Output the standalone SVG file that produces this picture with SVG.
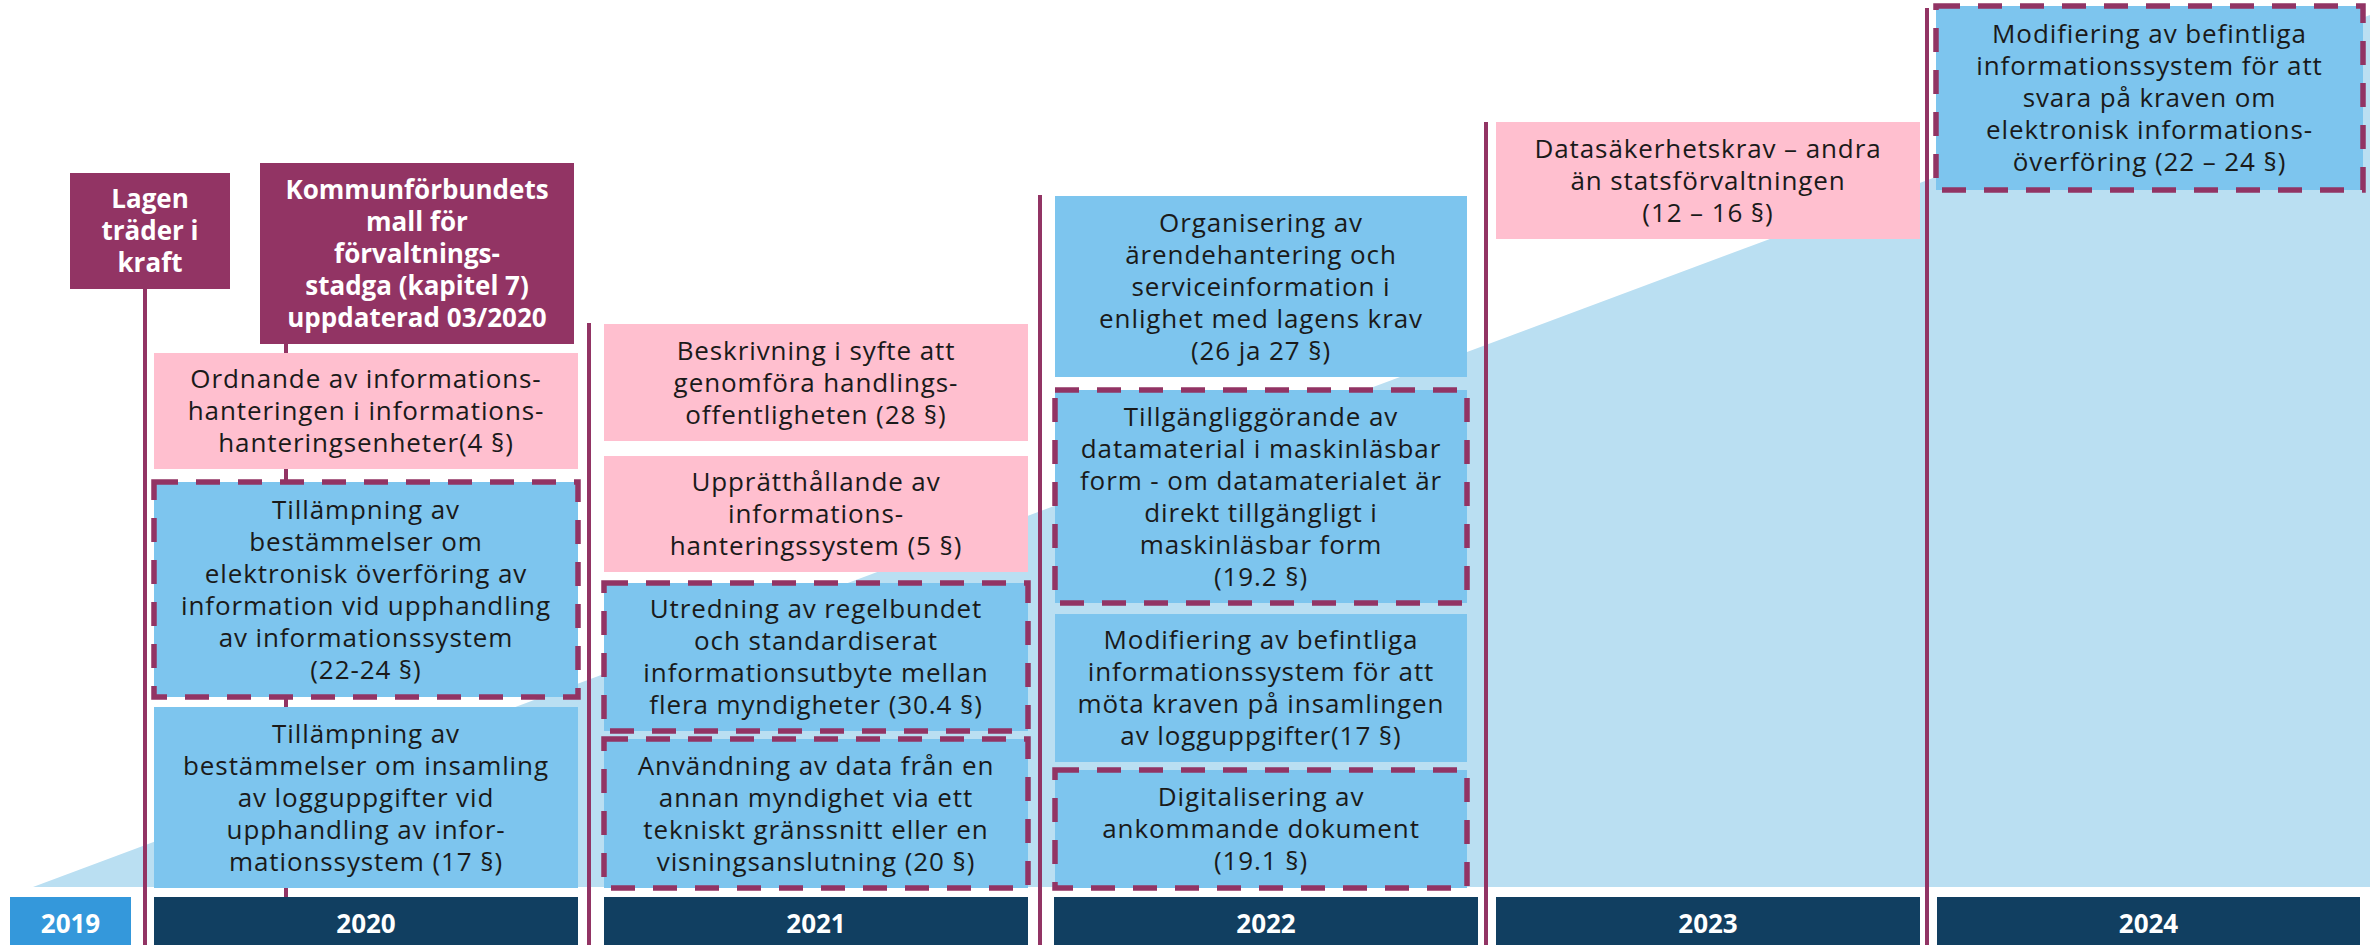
<svg xmlns="http://www.w3.org/2000/svg" width="2376" height="945" viewBox="0 0 2376 945">
<style>
.t{font-family:"Open Sans","Noto Sans","Liberation Sans",sans-serif;font-size:26px;fill:#1a1a1a;text-anchor:middle;letter-spacing:0.9px}
.tb{font-family:"Open Sans","Noto Sans","Liberation Sans",sans-serif;font-size:26px;font-weight:700;fill:#ffffff;text-anchor:middle}
.yr{font-family:"Open Sans","Noto Sans","Liberation Sans",sans-serif;font-size:26px;font-weight:700;fill:#ffffff;text-anchor:middle}
.pink{fill:#ffbfcf}
.blue{fill:#7dc5ee}
.dash{fill:#7dc5ee;stroke:#923464;stroke-width:5.5;stroke-dasharray:24 18}
.head{fill:#923464}
.bar{fill:#113f61}
.line{stroke:#923464;stroke-width:4;fill:none}
</style>
<rect width="2376" height="945" fill="#ffffff"/>
<polygon id="background" points="33,887 2370,887 2370,15" fill="#badff2"/>
<g id="connectors">
<line class="line" x1="145" y1="289" x2="145" y2="945"/>
<line class="line" x1="286" y1="344" x2="286" y2="897"/>
<line class="line" x1="589" y1="323" x2="589" y2="945"/>
<line class="line" x1="1040" y1="195" x2="1040" y2="945"/>
<line class="line" x1="1486" y1="122" x2="1486" y2="945"/>
<line class="line" x1="1927" y1="8" x2="1927" y2="945"/>
</g>
<g id="lagen">
<rect class="head" x="70" y="173" width="160" height="116"/>
<text class="tb"><tspan x="150" y="208">Lagen</tspan><tspan x="150" y="240">träder i</tspan><tspan x="150" y="272">kraft</tspan></text>
</g>
<g id="kommunforbundet">
<rect class="head" x="260" y="163" width="314" height="181"/>
<text class="tb"><tspan x="417" y="198.5">Kommunförbundets</tspan><tspan x="417" y="230.5">mall för</tspan><tspan x="417" y="262.5">förvaltnings-</tspan><tspan x="417" y="294.5">stadga (kapitel 7)</tspan><tspan x="417" y="326.5">uppdaterad 03/2020</tspan></text>
</g>
<g id="n2020-1">
<rect class="pink" x="154" y="353" width="424" height="116"/>
<text class="t"><tspan x="366" y="388">Ordnande av informations-</tspan><tspan x="366" y="420">hanteringen i informations-</tspan><tspan x="366" y="452">hanteringsenheter(4 §)</tspan></text>
</g>
<g id="n2020-2">
<rect class="dash" x="154" y="482" width="424" height="215"/>
<text class="t"><tspan x="366" y="518.5">Tillämpning av</tspan><tspan x="366" y="550.5">bestämmelser om</tspan><tspan x="366" y="582.5">elektronisk överföring av</tspan><tspan x="366" y="614.5">information vid upphandling</tspan><tspan x="366" y="646.5">av informationssystem</tspan><tspan x="366" y="678.5">(22-24 §)</tspan></text>
</g>
<g id="n2020-3">
<rect class="blue" x="154" y="707" width="424" height="181"/>
<text class="t"><tspan x="366" y="742.5">Tillämpning av</tspan><tspan x="366" y="774.5">bestämmelser om insamling</tspan><tspan x="366" y="806.5">av logguppgifter vid</tspan><tspan x="366" y="838.5">upphandling av infor-</tspan><tspan x="366" y="870.5">mationssystem (17 §)</tspan></text>
</g>
<g id="n2021-1">
<rect class="pink" x="604" y="324" width="424" height="117"/>
<text class="t"><tspan x="816" y="359.5">Beskrivning i syfte att</tspan><tspan x="816" y="391.5">genomföra handlings-</tspan><tspan x="816" y="423.5">offentligheten (28 §)</tspan></text>
</g>
<g id="n2021-2">
<rect class="pink" x="604" y="456" width="424" height="116"/>
<text class="t"><tspan x="816" y="491">Upprätthållande av</tspan><tspan x="816" y="523">informations-</tspan><tspan x="816" y="555">hanteringssystem (5 §)</tspan></text>
</g>
<g id="n2021-3">
<rect class="dash" x="604" y="583" width="424" height="148"/>
<text class="t"><tspan x="816" y="618">Utredning av regelbundet</tspan><tspan x="816" y="650">och standardiserat</tspan><tspan x="816" y="682">informationsutbyte mellan</tspan><tspan x="816" y="714">flera myndigheter (30.4 §)</tspan></text>
</g>
<g id="n2021-4">
<rect class="dash" x="604" y="739" width="424" height="149"/>
<text class="t"><tspan x="816" y="774.5">Användning av data från en</tspan><tspan x="816" y="806.5">annan myndighet via ett</tspan><tspan x="816" y="838.5">tekniskt gränssnitt eller en</tspan><tspan x="816" y="870.5">visningsanslutning (20 §)</tspan></text>
</g>
<g id="n2022-1">
<rect class="blue" x="1055" y="196" width="412" height="181"/>
<text class="t"><tspan x="1261" y="231.5">Organisering av</tspan><tspan x="1261" y="263.5">ärendehantering och</tspan><tspan x="1261" y="295.5">serviceinformation i</tspan><tspan x="1261" y="327.5">enlighet med lagens krav</tspan><tspan x="1261" y="359.5">(26 ja 27 §)</tspan></text>
</g>
<g id="n2022-2">
<rect class="dash" x="1055" y="390" width="412" height="213"/>
<text class="t"><tspan x="1261" y="425.5">Tillgängliggörande av</tspan><tspan x="1261" y="457.5">datamaterial i maskinläsbar</tspan><tspan x="1261" y="489.5">form - om datamaterialet är</tspan><tspan x="1261" y="521.5">direkt tillgängligt i</tspan><tspan x="1261" y="553.5">maskinläsbar form</tspan><tspan x="1261" y="585.5">(19.2 §)</tspan></text>
</g>
<g id="n2022-3">
<rect class="blue" x="1055" y="614" width="412" height="148"/>
<text class="t"><tspan x="1261" y="649">Modifiering av befintliga</tspan><tspan x="1261" y="681">informationssystem för att</tspan><tspan x="1261" y="713">möta kraven på insamlingen</tspan><tspan x="1261" y="745">av logguppgifter(17 §)</tspan></text>
</g>
<g id="n2022-4">
<rect class="dash" x="1055" y="770" width="412" height="118"/>
<text class="t"><tspan x="1261" y="806">Digitalisering av</tspan><tspan x="1261" y="838">ankommande dokument</tspan><tspan x="1261" y="870">(19.1 §)</tspan></text>
</g>
<g id="n2023-1">
<rect class="pink" x="1496" y="122" width="424" height="117"/>
<text class="t"><tspan x="1708" y="157.5">Datasäkerhetskrav – andra</tspan><tspan x="1708" y="189.5">än statsförvaltningen</tspan><tspan x="1708" y="221.5">(12 – 16 §)</tspan></text>
</g>
<g id="n2024-1">
<rect class="dash" x="1936" y="6" width="427" height="184"/>
<text class="t"><tspan x="2149.5" y="43">Modifiering av befintliga</tspan><tspan x="2149.5" y="75">informationssystem för att</tspan><tspan x="2149.5" y="107">svara på kraven om</tspan><tspan x="2149.5" y="139">elektronisk informations-</tspan><tspan x="2149.5" y="171">överföring (22 – 24 §)</tspan></text>
</g>
<g id="y2019">
<rect x="10" y="897" width="121" height="48" fill="#3498db"/>
<text class="yr" x="70.5" y="933">2019</text>
</g>
<g id="y2020">
<rect class="bar" x="154" y="897" width="424" height="48"/>
<text class="yr" x="366" y="933">2020</text>
</g>
<g id="y2021">
<rect class="bar" x="604" y="897" width="424" height="48"/>
<text class="yr" x="816" y="933">2021</text>
</g>
<g id="y2022">
<rect class="bar" x="1054" y="897" width="424" height="48"/>
<text class="yr" x="1266" y="933">2022</text>
</g>
<g id="y2023">
<rect class="bar" x="1496" y="897" width="424" height="48"/>
<text class="yr" x="1708" y="933">2023</text>
</g>
<g id="y2024">
<rect class="bar" x="1937" y="897" width="423" height="48"/>
<text class="yr" x="2148.5" y="933">2024</text>
</g>
</svg>
